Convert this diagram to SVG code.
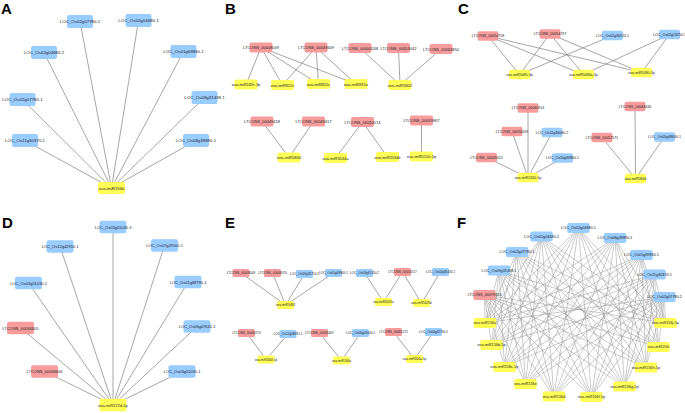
<svg xmlns="http://www.w3.org/2000/svg" xmlns:xlink="http://www.w3.org/1999/xlink" width="685" height="413" viewBox="0 0 685 413">
<style>
.g{fill:#99ccff}
.l{fill:#f79c9c}
.m{fill:#ffff55}
text{font-family:"Liberation Sans",Arial,sans-serif;text-anchor:middle;dominant-baseline:central;fill:#222}
.pa text{font-size:4.4px}
.pb text{font-size:4px}
.pc text{font-size:3.6px}
.pd text{font-size:4px}
.pe text{font-size:3.2px}
.pf text{font-size:3.8px}
.lab{font-size:15px;font-weight:bold;fill:#000;text-anchor:start;dominant-baseline:auto}
.e{stroke:#7f7f7f;stroke-width:0.7;fill:none}
.ef{stroke:#999;stroke-width:0.5}
</style>
<defs>
<rect id="rA" x="-13" y="-6.5" width="26" height="13" rx="2"/>
<rect id="rAm" x="-13.5" y="-6" width="27" height="12" rx="2"/>
<rect id="rB" x="-11.5" y="-5" width="23" height="10" rx="2"/>
<rect id="rC" x="-10.5" y="-4.75" width="21" height="9.5" rx="2"/>
<rect id="rD" x="-13.5" y="-6.25" width="27" height="12.5" rx="2"/>
<rect id="rE" x="-8.5" y="-4" width="17" height="8" rx="1.5"/>
<rect id="rF" x="-11.25" y="-5" width="22.5" height="10" rx="2"/>
</defs>
<rect width="685" height="413" fill="#fff"/>
<g id="labels">
<text class="lab" x="1" y="13.5">A</text>
<text class="lab" x="225" y="14">B</text>
<text class="lab" x="458" y="14">C</text>
<text class="lab" x="2" y="228">D</text>
<text class="lab" x="225" y="228">E</text>
<text class="lab" x="457" y="228">F</text>
</g>
<g id="connectors" class="e">
<path d="M80 21.5L111.5 188M138.5 20.5L111.5 188M44 52.5L111.5 188M183.5 51.5L111.5 188M22.5 99.5L111.5 188M204.5 97.5L111.5 188M25 140.5L111.5 188M196 140.5L111.5 188"/>
<path d="M113 227L113 405M60 246.5L113 405M164.5 245.5L113 405M28.5 283L113 405M188 282L113 405M197 326.5L113 405M182 371.5L113 405M20.5 328L113 405M44.5 371.5L113 405"/>
<path d="M261 47.5L246 84.5M261 47.5L282.5 85M261 47.5L318.5 84M261 47.5L356 84M316 47.5L282.5 85M316 47.5L318.5 84M316 47.5L356 84M360 48L400 85M398.5 48L400 85M441 49L400 85M262 121.5L289 157.5M313.5 121.5L289 157.5M362.5 122L335.5 158M362.5 122L387.5 157M421.5 120.5L421.5 156.5"/>
<path d="M488 36L519.5 74.5M488 36L583.5 74.5M488 36L641.5 72.5M550 34L519.5 74.5M550 34L583.5 74.5M550 34L641.5 72.5M612.5 35.5L519.5 74.5M669.5 34.5L583.5 74.5M669.5 34.5L641.5 72.5M528 108L528 177.5M512 131.5L528 177.5M552 132.5L528 177.5M486.5 157.5L528 177.5M562.5 158L528 177.5M635 106.5L635.5 178.5M602 137.5L635.5 178.5M664.5 137L635.5 178.5"/>
<path d="M241 273L285.5 305M272.5 273L285.5 305M304.5 274L285.5 305M333.5 273L285.5 305M364.5 273L383.5 302M402.5 272L383.5 302M402.5 272L421.5 303M440.5 272L421.5 303M246.5 333L266 359.5M288 334L266 359.5M319.5 333L341.5 360.5M360.5 333L341.5 360.5M393.5 332L414.5 359M433.5 332L414.5 359"/>
<g class="ef">
<path d="M485 323L578.5 228L665.5 323M491.5 345L578.5 228L658.5 347M504.5 367L578.5 228L646 367.5M525.5 384L578.5 228L624.5 386.5M554 396.5L578.5 228L591.5 397"/>
<path d="M485 323L541.5 236.5L665.5 323M491.5 345L541.5 236.5L658.5 347M504.5 367L541.5 236.5L646 367.5M525.5 384L541.5 236.5L624.5 386.5M554 396.5L541.5 236.5L591.5 397"/>
<path d="M485 323L615 238L665.5 323M491.5 345L615 238L658.5 347M504.5 367L615 238L646 367.5M525.5 384L615 238L624.5 386.5M554 396.5L615 238L591.5 397"/>
<path d="M485 323L517 252L665.5 323M491.5 345L517 252L658.5 347M504.5 367L517 252L646 367.5M525.5 384L517 252L624.5 386.5M554 396.5L517 252L591.5 397"/>
<path d="M485 323L641.5 255L665.5 323M491.5 345L641.5 255L658.5 347M504.5 367L641.5 255L646 367.5M525.5 384L641.5 255L624.5 386.5M554 396.5L641.5 255L591.5 397"/>
<path d="M485 323L499 270.5L665.5 323M491.5 345L499 270.5L658.5 347M504.5 367L499 270.5L646 367.5M525.5 384L499 270.5L624.5 386.5M554 396.5L499 270.5L591.5 397"/>
<path d="M485 323L654.5 274.5L665.5 323M491.5 345L654.5 274.5L658.5 347M504.5 367L654.5 274.5L646 367.5M525.5 384L654.5 274.5L624.5 386.5M554 396.5L654.5 274.5L591.5 397"/>
<path d="M485 323L484.5 295L665.5 323M491.5 345L484.5 295L658.5 347M504.5 367L484.5 295L646 367.5M525.5 384L484.5 295L624.5 386.5M554 396.5L484.5 295L591.5 397"/>
<path d="M485 323L664.5 297L665.5 323M491.5 345L664.5 297L658.5 347M504.5 367L664.5 297L646 367.5M525.5 384L664.5 297L624.5 386.5M554 396.5L664.5 297L591.5 397"/>
</g>
</g>
<g id="panelA" class="pa">
<g id="a1" class="g" transform="translate(80 21.5)"><use href="#rA"/><text>LOC_Os02g07780.2</text></g>
<g id="a2" class="g" transform="translate(138.5 20.5)"><use href="#rA"/><text>LOC_Os02g04680.1</text></g>
<g id="a3" class="g" transform="translate(44 52.5)"><use href="#rA"/><text>LOC_Os02g04680.2</text></g>
<g id="a4" class="g" transform="translate(183.5 51.5)"><use href="#rA"/><text>LOC_Os01g69830.1</text></g>
<g id="a5" class="g" transform="translate(22.5 99.5)"><use href="#rA"/><text>LOC_Os02g07780.1</text></g>
<g id="a6" class="g" transform="translate(204.5 97.5)"><use href="#rA"/><text>LOC_Os09g31438.1</text></g>
<g id="a7" class="g" transform="translate(25 140.5)"><use href="#rA"/><text>LOC_Os11g30370.1</text></g>
<g id="a8" class="g" transform="translate(196 140.5)"><use href="#rA"/><text>LOC_Os08g39890.1</text></g>
<g id="am" class="m" transform="translate(111.5 188)"><use href="#rAm"/><text>osa-miR156k</text></g>
</g>
<g id="panelB" class="pb">
<g id="b1" class="l" transform="translate(261 47.5)"><use href="#rB"/><text>LTCONS_00008049</text></g>
<g id="b2" class="l" transform="translate(316 47.5)"><use href="#rB"/><text>LTCONS_00043609</text></g>
<g id="b3" class="l" transform="translate(360 48)"><use href="#rB"/><text>LTCONS_00000248</text></g>
<g id="b4" class="l" transform="translate(398.5 48)"><use href="#rB"/><text>LTCONS_00053042</text></g>
<g id="b5" class="l" transform="translate(441 49)"><use href="#rB"/><text>LTCONS_00063850</text></g>
<g id="by1" class="m" transform="translate(246 84.5)"><use href="#rB"/><text>osa-miR169r-3p</text></g>
<g id="by2" class="m" transform="translate(282.5 85)"><use href="#rB"/><text>osa-miR812c</text></g>
<g id="by3" class="m" transform="translate(318.5 84)"><use href="#rB"/><text>osa-miR815c</text></g>
<g id="by4" class="m" transform="translate(356 84)"><use href="#rB"/><text>osa-miR815a</text></g>
<g id="by5" class="m" transform="translate(400 85)"><use href="#rB"/><text>osa-miR5802</text></g>
<g id="b6" class="l" transform="translate(262 121.5)"><use href="#rB"/><text>LTCONS_00049418</text></g>
<g id="b7" class="l" transform="translate(313.5 121.5)"><use href="#rB"/><text>LTCONS_00049417</text></g>
<g id="b8" class="l" transform="translate(362.5 122)"><use href="#rB"/><text>LTCONS_00010574</text></g>
<g id="b9" class="l" transform="translate(421.5 120.5)"><use href="#rB"/><text>LTCONS_00019867</text></g>
<g id="by6" class="m" transform="translate(289 157.5)"><use href="#rB"/><text>osa-miR5800</text></g>
<g id="by7" class="m" transform="translate(335.5 158)"><use href="#rB"/><text>osa-miR5534a</text></g>
<g id="by8" class="m" transform="translate(387.5 157)"><use href="#rB"/><text>osa-miR5534b</text></g>
<g id="by9" class="m" transform="translate(421.5 156.5)"><use href="#rB"/><text>osa-miR5150-5p</text></g>
</g>
<g id="panelC" class="pc">
<g id="c1" class="l" transform="translate(488 36)"><use href="#rC"/><text>LTCONS_00054758</text></g>
<g id="c2" class="l" transform="translate(550 34)"><use href="#rC"/><text>LTCONS_00054797</text></g>
<g id="c3" class="g" transform="translate(612.5 35.5)"><use href="#rC"/><text>LOC_Os02g36520.1</text></g>
<g id="c4" class="g" transform="translate(669.5 34.5)"><use href="#rC"/><text>LOC_Os02g13250.1</text></g>
<g id="cy1" class="m" transform="translate(519.5 74.5)"><use href="#rC"/><text>osa-miR5085-3p</text></g>
<g id="cy2" class="m" transform="translate(583.5 74.5)"><use href="#rC"/><text>osa-miR5083a-3p</text></g>
<g id="cy3" class="m" transform="translate(641.5 72.5)"><use href="#rC"/><text>osa-miR5080-3p</text></g>
<g id="c5" class="l" transform="translate(528 108)"><use href="#rC"/><text>LTCONS_00060914</text></g>
<g id="c6" class="l" transform="translate(512 131.5)"><use href="#rC"/><text>LTCONS_00050195</text></g>
<g id="c7" class="g" transform="translate(552 132.5)"><use href="#rC"/><text>LOC_Os11g36060.2</text></g>
<g id="c8" class="l" transform="translate(486.5 157.5)"><use href="#rC"/><text>LTCONS_00049015</text></g>
<g id="c9" class="g" transform="translate(562.5 158)"><use href="#rC"/><text>LOC_Os10g39860.1</text></g>
<g id="cy4" class="m" transform="translate(528 177.5)"><use href="#rC"/><text>osa-miR1320-5p</text></g>
<g id="c10" class="l" transform="translate(635 106.5)"><use href="#rC"/><text>LTCONS_00063446</text></g>
<g id="c11" class="l" transform="translate(602 137.5)"><use href="#rC"/><text>LTCONS_00052571</text></g>
<g id="c12" class="g" transform="translate(664.5 137)"><use href="#rC"/><text>LOC_Os05g48640.1</text></g>
<g id="cy5" class="m" transform="translate(635.5 178.5)"><use href="#rC"/><text>osa-miR5806</text></g>
</g>
<g id="panelD" class="pd">
<g id="d1" class="g" transform="translate(113 227)"><use href="#rD"/><text>LOC_Os03g51030.3</text></g>
<g id="d2" class="g" transform="translate(60 246.5)"><use href="#rD"/><text>LOC_Os12g42950.1</text></g>
<g id="d3" class="g" transform="translate(164.5 245.5)"><use href="#rD"/><text>LOC_Os07g29500.1</text></g>
<g id="d4" class="g" transform="translate(28.5 283)"><use href="#rD"/><text>LOC_Os03g51030.2</text></g>
<g id="d5" class="g" transform="translate(188 282)"><use href="#rD"/><text>LOC_Os01g68790.1</text></g>
<g id="d6" class="g" transform="translate(197 326.5)"><use href="#rD"/><text>LOC_Os06g07632.1</text></g>
<g id="d7" class="g" transform="translate(182 371.5)"><use href="#rD"/><text>LOC_Os03g51030.1</text></g>
<g id="d8" class="l" transform="translate(20.5 328)"><use href="#rD"/><text>LTCONS_00034605</text></g>
<g id="d9" class="l" transform="translate(44.5 371.5)"><use href="#rD"/><text>LTCONS_00034606</text></g>
<g id="dm" class="m" transform="translate(113 405)"><use href="#rD"/><text>osa-miR172d-5p</text></g>
</g>
<g id="panelE" class="pe">
<g id="e1" class="l" transform="translate(241 273)"><use href="#rE"/><text>LTCONS_00008049</text></g>
<g id="e2" class="l" transform="translate(272.5 273)"><use href="#rE"/><text>LTCONS_00008070</text></g>
<g id="e3" class="g" transform="translate(304.5 274)"><use href="#rE"/><text>LOC_Os09g26710.1</text></g>
<g id="e4" class="g" transform="translate(333.5 273)"><use href="#rE"/><text>LOC_Os01g69800.1</text></g>
<g id="ey1" class="m" transform="translate(285.5 305)"><use href="#rE"/><text>osa-miR5083</text></g>
<g id="e5" class="g" transform="translate(364.5 273)"><use href="#rE"/><text>LOC_Os03g41050.2</text></g>
<g id="e6" class="l" transform="translate(402.5 272)"><use href="#rE"/><text>LTCONS_00010517</text></g>
<g id="e7" class="g" transform="translate(440.5 272)"><use href="#rE"/><text>LOC_Os02g36430.1</text></g>
<g id="ey2" class="m" transform="translate(383.5 302)"><use href="#rE"/><text>osa-miR5025a</text></g>
<g id="ey3" class="m" transform="translate(421.5 303)"><use href="#rE"/><text>osa-miR5025b</text></g>
<g id="e8" class="l" transform="translate(246.5 333)"><use href="#rE"/><text>LTCONS_00060175</text></g>
<g id="e9" class="g" transform="translate(288 334)"><use href="#rE"/><text>LOC_Os12g08691.1</text></g>
<g id="ey4" class="m" transform="translate(266 359.5)"><use href="#rE"/><text>osa-miR160f-5p</text></g>
<g id="e10" class="l" transform="translate(319.5 333)"><use href="#rE"/><text>LTCONS_00030407</text></g>
<g id="e11" class="g" transform="translate(360.5 333)"><use href="#rE"/><text>LOC_Os06g04640.1</text></g>
<g id="ey5" class="m" transform="translate(341.5 360.5)"><use href="#rE"/><text>osa-miR160a</text></g>
<g id="e12" class="l" transform="translate(393.5 332)"><use href="#rE"/><text>LTCONS_00061275</text></g>
<g id="e13" class="g" transform="translate(433.5 332)"><use href="#rE"/><text>LOC_Os04g42760.1</text></g>
<g id="ey6" class="m" transform="translate(414.5 359)"><use href="#rE"/><text>osa-miR164a-5p</text></g>
</g>
<g id="panelF" class="pf">
<g id="f1" class="g" transform="translate(578.5 228)"><use href="#rF"/><text>LOC_Os02g04680.1</text></g>
<g id="f2" class="g" transform="translate(541.5 236.5)"><use href="#rF"/><text>LOC_Os02g04680.2</text></g>
<g id="f3" class="g" transform="translate(615 238)"><use href="#rF"/><text>LOC_Os08g39890.1</text></g>
<g id="f4" class="g" transform="translate(517 252)"><use href="#rF"/><text>LOC_Os02g07780.1</text></g>
<g id="f5" class="g" transform="translate(641.5 255)"><use href="#rF"/><text>LOC_Os01g69830.1</text></g>
<g id="f6" class="g" transform="translate(499 270.5)"><use href="#rF"/><text>LOC_Os09g31438.1</text></g>
<g id="f7" class="g" transform="translate(654.5 274.5)"><use href="#rF"/><text>LOC_Os11g30370.1</text></g>
<g id="f8" class="l" transform="translate(484.5 295)"><use href="#rF"/><text>LTCONS_00079633</text></g>
<g id="f9" class="g" transform="translate(664.5 297)"><use href="#rF"/><text>LOC_Os02g07780.2</text></g>
<g id="fm1" class="m" transform="translate(485 323)"><use href="#rF"/><text>osa-miR156a</text></g>
<g id="fm2" class="m" transform="translate(665.5 323)"><use href="#rF"/><text>osa-miR156j-5p</text></g>
<g id="fm3" class="m" transform="translate(491.5 345)"><use href="#rF"/><text>osa-miR156b-5p</text></g>
<g id="fm4" class="m" transform="translate(658.5 347)"><use href="#rF"/><text>osa-miR156i</text></g>
<g id="fm5" class="m" transform="translate(504.5 367)"><use href="#rF"/><text>osa-miR156c-5p</text></g>
<g id="fm6" class="m" transform="translate(646 367.5)"><use href="#rF"/><text>osa-miR156h-5p</text></g>
<g id="fm7" class="m" transform="translate(525.5 384)"><use href="#rF"/><text>osa-miR156e</text></g>
<g id="fm8" class="m" transform="translate(624.5 386.5)"><use href="#rF"/><text>osa-miR156g-5p</text></g>
<g id="fm9" class="m" transform="translate(554 396.5)"><use href="#rF"/><text>osa-miR156d</text></g>
<g id="fm10" class="m" transform="translate(591.5 397)"><use href="#rF"/><text>osa-miR156f-5p</text></g>
</g>
</svg>
